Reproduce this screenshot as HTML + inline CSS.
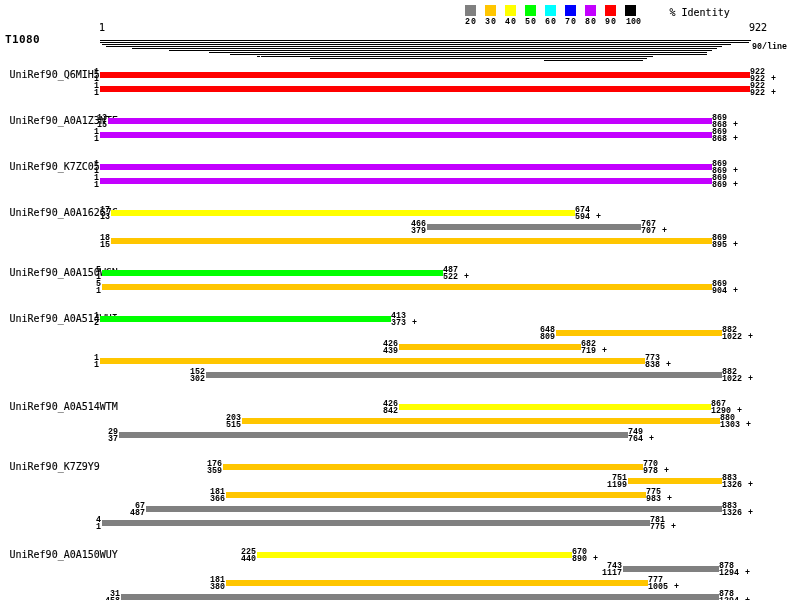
<!DOCTYPE html>
<html><head><meta charset="utf-8"><title>T1080</title>
<style>
html,body{margin:0;padding:0;background:#fff;}
body{width:800px;height:600px;position:relative;overflow:hidden;color:#000;}
div{position:absolute;white-space:pre;}
.s{font-family:"DejaVu Sans Mono","Liberation Mono",monospace;font-size:10px;line-height:13px;height:13px;-webkit-text-stroke:0.12px #000;}
.t{font-family:"Liberation Mono","DejaVu Sans Mono",monospace;font-size:8.33px;line-height:8px;height:8px;font-weight:bold;word-spacing:1px;}
.tr{text-align:right;width:40px;}
.m{font-family:"DejaVu Sans Mono","Liberation Mono",monospace;font-weight:bold;font-size:11px;letter-spacing:0.38px;line-height:13px;height:13px;}
.b{height:6px;}
.h{height:1px;background:#000;}
.q{width:11px;height:11px;top:5px;}
.r{background:#ff0000}.p{background:#c300ff}.y{background:#ffff00}.g{background:#808080}.o{background:#ffc600}
.n{background:#00ff00}.c{background:#00ffff}.bl{background:#0000ff}.k{background:#000}
#w{left:0;top:0;width:800px;height:600px;will-change:transform;}
</style></head><body><div id="w">

<div class="q g" style="left:465px"></div>
<div class="t" style="left:465px;top:18px;letter-spacing:1px;">20</div>
<div class="q o" style="left:485px"></div>
<div class="t" style="left:485px;top:18px;letter-spacing:1px;">30</div>
<div class="q y" style="left:505px"></div>
<div class="t" style="left:505px;top:18px;letter-spacing:1px;">40</div>
<div class="q n" style="left:525px"></div>
<div class="t" style="left:525px;top:18px;letter-spacing:1px;">50</div>
<div class="q c" style="left:545px"></div>
<div class="t" style="left:545px;top:18px;letter-spacing:1px;">60</div>
<div class="q bl" style="left:565px"></div>
<div class="t" style="left:565px;top:18px;letter-spacing:1px;">70</div>
<div class="q p" style="left:585px"></div>
<div class="t" style="left:585px;top:18px;letter-spacing:1px;">80</div>
<div class="q r" style="left:605px"></div>
<div class="t" style="left:605px;top:18px;letter-spacing:1px;">90</div>
<div class="q k" style="left:625px"></div>
<div class="t" style="left:626px;top:18px;">100</div>
<div class="s" style="left:669.5px;top:6px">% Identity</div>
<div class="s" style="left:99px;top:21px">1</div>
<div class="s" style="left:749px;top:21px">922</div>
<div class="m" style="left:5px;top:33px">T1080</div>
<div class="t" style="left:752px;top:43px">90/line</div>
<div class="h" style="left:100px;top:40px;width:651px"></div>
<div class="h" style="left:100px;top:42px;width:649px"></div>
<div class="h" style="left:102px;top:44px;width:629px"></div>
<div class="h" style="left:106px;top:46px;width:616px"></div>
<div class="h" style="left:132px;top:48px;width:585px"></div>
<div class="h" style="left:169px;top:50px;width:543px"></div>
<div class="h" style="left:209px;top:52px;width:498px"></div>
<div class="h" style="left:230px;top:54px;width:477px"></div>
<div class="h" style="left:257px;top:56px;width:3px"></div>
<div class="h" style="left:261px;top:56px;width:392px"></div>
<div class="h" style="left:310px;top:58px;width:337px"></div>
<div class="h" style="left:544px;top:60px;width:99px"></div>
<div class="s" style="left:9.5px;top:68px">UniRef90_Q6MIH5</div>
<div class="s" style="left:9.5px;top:114px">UniRef90_A0A1Z3NTF</div>
<div class="s" style="left:9.5px;top:160px">UniRef90_K7ZC05</div>
<div class="s" style="left:9.5px;top:206px">UniRef90_A0A162G7C</div>
<div class="s" style="left:9.5px;top:266px">UniRef90_A0A150WGN</div>
<div class="s" style="left:9.5px;top:312px">UniRef90_A0A514WUI</div>
<div class="s" style="left:9.5px;top:400px">UniRef90_A0A514WTM</div>
<div class="s" style="left:9.5px;top:460px">UniRef90_K7Z9Y9</div>
<div class="s" style="left:9.5px;top:548px">UniRef90_A0A150WUY</div>
<div class="b r" style="left:100px;top:72px;width:650px"></div>
<div class="b r" style="left:100px;top:86px;width:650px"></div>
<div class="b p" style="left:108px;top:118px;width:604px"></div>
<div class="b p" style="left:100px;top:132px;width:612px"></div>
<div class="b p" style="left:100px;top:164px;width:612px"></div>
<div class="b p" style="left:100px;top:178px;width:612px"></div>
<div class="b y" style="left:111px;top:210px;width:464px"></div>
<div class="b g" style="left:427px;top:224px;width:214px"></div>
<div class="b o" style="left:111px;top:238px;width:601px"></div>
<div class="b n" style="left:102px;top:270px;width:341px"></div>
<div class="b o" style="left:102px;top:284px;width:610px"></div>
<div class="b n" style="left:100px;top:316px;width:291px"></div>
<div class="b o" style="left:556px;top:330px;width:166px"></div>
<div class="b o" style="left:399px;top:344px;width:182px"></div>
<div class="b o" style="left:100px;top:358px;width:545px"></div>
<div class="b g" style="left:206px;top:372px;width:516px"></div>
<div class="b y" style="left:399px;top:404px;width:312px"></div>
<div class="b o" style="left:242px;top:418px;width:478px"></div>
<div class="b g" style="left:119px;top:432px;width:509px"></div>
<div class="b o" style="left:223px;top:464px;width:420px"></div>
<div class="b o" style="left:628px;top:478px;width:94px"></div>
<div class="b o" style="left:226px;top:492px;width:420px"></div>
<div class="b g" style="left:146px;top:506px;width:576px"></div>
<div class="b g" style="left:102px;top:520px;width:548px"></div>
<div class="b y" style="left:257px;top:552px;width:315px"></div>
<div class="b g" style="left:623px;top:566px;width:96px"></div>
<div class="b o" style="left:226px;top:580px;width:422px"></div>
<div class="b g" style="left:121px;top:594px;width:598px"></div>
<div class="t tr" style="left:59px;top:68px">1</div>
<div class="t tr" style="left:59px;top:75px">1</div>
<div class="t" style="left:750px;top:68px">922</div>
<div class="t" style="left:750px;top:75px">922 +</div>
<div class="t tr" style="left:59px;top:82px">1</div>
<div class="t tr" style="left:59px;top:89px">1</div>
<div class="t" style="left:750px;top:82px">922</div>
<div class="t" style="left:750px;top:89px">922 +</div>
<div class="t tr" style="left:67px;top:114px">13</div>
<div class="t tr" style="left:67px;top:121px">15</div>
<div class="t" style="left:712px;top:114px">869</div>
<div class="t" style="left:712px;top:121px">868 +</div>
<div class="t tr" style="left:59px;top:128px">1</div>
<div class="t tr" style="left:59px;top:135px">1</div>
<div class="t" style="left:712px;top:128px">869</div>
<div class="t" style="left:712px;top:135px">868 +</div>
<div class="t tr" style="left:59px;top:160px">1</div>
<div class="t tr" style="left:59px;top:167px">1</div>
<div class="t" style="left:712px;top:160px">869</div>
<div class="t" style="left:712px;top:167px">869 +</div>
<div class="t tr" style="left:59px;top:174px">1</div>
<div class="t tr" style="left:59px;top:181px">1</div>
<div class="t" style="left:712px;top:174px">869</div>
<div class="t" style="left:712px;top:181px">869 +</div>
<div class="t tr" style="left:70px;top:206px">17</div>
<div class="t tr" style="left:70px;top:213px">13</div>
<div class="t" style="left:575px;top:206px">674</div>
<div class="t" style="left:575px;top:213px">594 +</div>
<div class="t tr" style="left:386px;top:220px">466</div>
<div class="t tr" style="left:386px;top:227px">379</div>
<div class="t" style="left:641px;top:220px">767</div>
<div class="t" style="left:641px;top:227px">707 +</div>
<div class="t tr" style="left:70px;top:234px">18</div>
<div class="t tr" style="left:70px;top:241px">15</div>
<div class="t" style="left:712px;top:234px">869</div>
<div class="t" style="left:712px;top:241px">895 +</div>
<div class="t tr" style="left:61px;top:266px">5</div>
<div class="t tr" style="left:61px;top:273px">1</div>
<div class="t" style="left:443px;top:266px">487</div>
<div class="t" style="left:443px;top:273px">522 +</div>
<div class="t tr" style="left:61px;top:280px">5</div>
<div class="t tr" style="left:61px;top:287px">1</div>
<div class="t" style="left:712px;top:280px">869</div>
<div class="t" style="left:712px;top:287px">904 +</div>
<div class="t tr" style="left:59px;top:312px">1</div>
<div class="t tr" style="left:59px;top:319px">2</div>
<div class="t" style="left:391px;top:312px">413</div>
<div class="t" style="left:391px;top:319px">373 +</div>
<div class="t tr" style="left:515px;top:326px">648</div>
<div class="t tr" style="left:515px;top:333px">809</div>
<div class="t" style="left:722px;top:326px">882</div>
<div class="t" style="left:722px;top:333px">1022 +</div>
<div class="t tr" style="left:358px;top:340px">426</div>
<div class="t tr" style="left:358px;top:347px">439</div>
<div class="t" style="left:581px;top:340px">682</div>
<div class="t" style="left:581px;top:347px">719 +</div>
<div class="t tr" style="left:59px;top:354px">1</div>
<div class="t tr" style="left:59px;top:361px">1</div>
<div class="t" style="left:645px;top:354px">773</div>
<div class="t" style="left:645px;top:361px">838 +</div>
<div class="t tr" style="left:165px;top:368px">152</div>
<div class="t tr" style="left:165px;top:375px">302</div>
<div class="t" style="left:722px;top:368px">882</div>
<div class="t" style="left:722px;top:375px">1022 +</div>
<div class="t tr" style="left:358px;top:400px">426</div>
<div class="t tr" style="left:358px;top:407px">842</div>
<div class="t" style="left:711px;top:400px">867</div>
<div class="t" style="left:711px;top:407px">1290 +</div>
<div class="t tr" style="left:201px;top:414px">203</div>
<div class="t tr" style="left:201px;top:421px">515</div>
<div class="t" style="left:720px;top:414px">880</div>
<div class="t" style="left:720px;top:421px">1303 +</div>
<div class="t tr" style="left:78px;top:428px">29</div>
<div class="t tr" style="left:78px;top:435px">37</div>
<div class="t" style="left:628px;top:428px">749</div>
<div class="t" style="left:628px;top:435px">764 +</div>
<div class="t tr" style="left:182px;top:460px">176</div>
<div class="t tr" style="left:182px;top:467px">359</div>
<div class="t" style="left:643px;top:460px">770</div>
<div class="t" style="left:643px;top:467px">978 +</div>
<div class="t tr" style="left:587px;top:474px">751</div>
<div class="t tr" style="left:587px;top:481px">1199</div>
<div class="t" style="left:722px;top:474px">883</div>
<div class="t" style="left:722px;top:481px">1326 +</div>
<div class="t tr" style="left:185px;top:488px">181</div>
<div class="t tr" style="left:185px;top:495px">366</div>
<div class="t" style="left:646px;top:488px">775</div>
<div class="t" style="left:646px;top:495px">983 +</div>
<div class="t tr" style="left:105px;top:502px">67</div>
<div class="t tr" style="left:105px;top:509px">487</div>
<div class="t" style="left:722px;top:502px">883</div>
<div class="t" style="left:722px;top:509px">1326 +</div>
<div class="t tr" style="left:61px;top:516px">4</div>
<div class="t tr" style="left:61px;top:523px">1</div>
<div class="t" style="left:650px;top:516px">781</div>
<div class="t" style="left:650px;top:523px">775 +</div>
<div class="t tr" style="left:216px;top:548px">225</div>
<div class="t tr" style="left:216px;top:555px">440</div>
<div class="t" style="left:572px;top:548px">670</div>
<div class="t" style="left:572px;top:555px">890 +</div>
<div class="t tr" style="left:582px;top:562px">743</div>
<div class="t tr" style="left:582px;top:569px">1117</div>
<div class="t" style="left:719px;top:562px">878</div>
<div class="t" style="left:719px;top:569px">1294 +</div>
<div class="t tr" style="left:185px;top:576px">181</div>
<div class="t tr" style="left:185px;top:583px">380</div>
<div class="t" style="left:648px;top:576px">777</div>
<div class="t" style="left:648px;top:583px">1005 +</div>
<div class="t tr" style="left:80px;top:590px">31</div>
<div class="t tr" style="left:80px;top:597px">458</div>
<div class="t" style="left:719px;top:590px">878</div>
<div class="t" style="left:719px;top:597px">1294 +</div>
</div></body></html>
